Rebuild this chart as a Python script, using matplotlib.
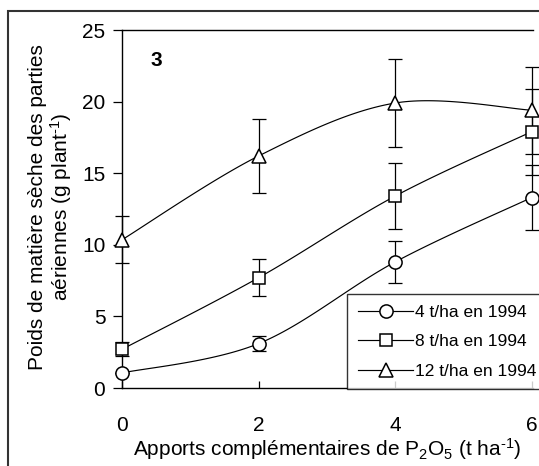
import numpy as np
import matplotlib
matplotlib.use("Agg")
import matplotlib.pyplot as plt
from matplotlib.lines import Line2D
from matplotlib.patches import Rectangle

plt.rcParams['font.family'] = ['Liberation Sans', 'DejaVu Sans']
plt.rcParams['mathtext.fontset'] = 'custom'
plt.rcParams['mathtext.rm'] = 'Liberation Sans'
plt.rcParams['mathtext.it'] = 'Liberation Sans'
plt.rcParams['mathtext.bf'] = 'Liberation Sans:bold'

# Data
x_p2o5 = [0, 2, 4, 6]
labels = ["4 t/ha en 1994", "8 t/ha en 1994", "12 t/ha en 1994"]
markers = ['o', 's', '^']
y_4t = [1.05, 3.1, 8.8, 13.3]
err_4t = [0.0, 0.5, 1.45, 2.3]
y_8t = [2.7, 7.7, 13.4, 17.9]
err_8t = [0.5, 1.3, 2.3, 3.0]
y_12t = [10.35, 16.2, 19.9, 19.4]
err_12t = [1.65, 2.6, 3.1, 3.05]
series = [(y_4t, err_4t), (y_8t, err_8t), (y_12t, err_12t)]


def smooth(xs, ys, n=40):
    """Excel-like smoothed line (Catmull-Rom Bezier) through the points."""
    P = np.column_stack([xs, ys]).astype(float)
    out = [P[0]]
    m = len(P)
    for i in range(m - 1):
        p0 = P[i - 1] if i > 0 else P[i]
        p1 = P[i]
        p2 = P[i + 1]
        p3 = P[i + 2] if i + 2 < m else P[i + 1]
        c1 = p1 + (p2 - p0) / 6.0
        c2 = p2 - (p3 - p1) / 6.0
        t = np.linspace(0, 1, n)[1:, None]
        seg = ((1 - t) ** 3) * p1 + 3 * ((1 - t) ** 2) * t * c1 + 3 * (1 - t) * t ** 2 * c2 + t ** 3 * p2
        out.extend(seg)
    out = np.array(out)
    return out[:, 0], out[:, 1]


W, H = 539, 466
fig = plt.figure(figsize=(W / 100, H / 100), dpi=100)
ax = fig.add_axes([122 / W, 1 - 388 / H, (533 - 122) / W, (388 - 30) / H])

# outer frame (cropped at right/bottom)
fig.patches.append(Rectangle((8 / W, -0.05), 1.2, 1 - 11 / H + 0.05, transform=fig.transFigure,
                             fill=False, edgecolor='#333333', linewidth=1.5, zorder=0))

MS = {'o': 9.5, 's': 9, '^': 9.5}
for (ys, es), mk in zip(series, markers):
    sx, sy = smooth(x_p2o5, ys)
    ax.plot(sx, sy, color='black', linewidth=0.85, zorder=2, clip_on=False)
    ax.errorbar(x_p2o5, ys, yerr=es, fmt='none', ecolor='black', elinewidth=0.9,
                capsize=5, capthick=0.9, zorder=3, clip_on=False)
    ax.plot(x_p2o5, ys, linestyle='none', marker=mk, markersize=MS[mk],
            markerfacecolor='white', markeredgecolor='black', markeredgewidth=1.1,
            zorder=4, clip_on=False)

ax.set_xlim(0, 6.02)
ax.set_ylim(0, 25)
ax.set_xticks([0, 2, 4, 6])
ax.set_yticks([0, 5, 10, 15, 20, 25])
ax.spines['right'].set_visible(False)
for s in ['left', 'top', 'bottom']:
    ax.spines[s].set_linewidth(1.0)
ax.tick_params(axis='y', direction='out', length=6.5, width=0.9, labelsize=15, pad=5.5)
ax.tick_params(axis='x', direction='in', length=5, width=0.9, labelsize=15, pad=20)

ax.set_xlabel("Apports complémentaires de P$_2$O$_5$ (t ha$^{\\text{-1}}$)", fontsize=15, labelpad=1)
fig.text(38 / W, 1 - 207 / H, "Poids de matière sèche des parties", rotation=90,
         ha='center', va='center', fontsize=15)
fig.text(61 / W, 1 - 207 / H, "aériennes (g plant$^{\\text{-1}}$)", rotation=90,
         ha='center', va='center', fontsize=15)

fig.text(156 / W, 1 - 61 / H, "3", fontsize=15, fontweight='bold', ha='center', va='center')

handles = [Line2D([0], [0], color='black', linewidth=0.85, marker=mk, markersize=MS[mk],
                  markerfacecolor='white', markeredgecolor='black', markeredgewidth=1.1)
           for mk in markers]
leg = fig.legend(handles, labels, loc='upper left', bbox_to_anchor=(347 / W, 1 - 294 / H),
                 frameon=True, fancybox=False, fontsize=12.5, handlelength=3.2,
                 borderpad=0.62, labelspacing=0.82, handletextpad=0.12, borderaxespad=0)
leg.get_frame().set_edgecolor('black')
leg.get_frame().set_linewidth(1.0)

fig.savefig("out.png", dpi=100)
